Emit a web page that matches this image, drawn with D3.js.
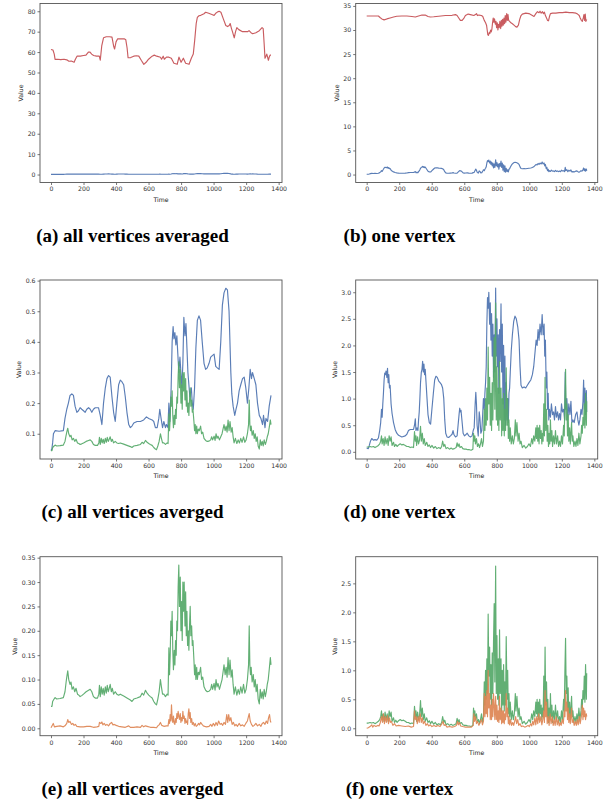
<!DOCTYPE html>
<html><head><meta charset="utf-8">
<script src="https://cdn.jsdelivr.net/npm/d3@7"></script>
<style>
html,body{margin:0;padding:0;background:#fff;}
svg{display:block;}
.tick text{font-family:"DejaVu Sans",sans-serif;font-size:6.2px;fill:#333;}
.axlab{font-family:"DejaVu Sans",sans-serif;font-size:6.2px;fill:#222;}
.cap{font-family:"Liberation Serif",serif;font-weight:bold;font-size:19px;fill:#000;}
</style></head>
<body>
<svg id="fig" width="615" height="808"></svg>
<script>
// ---------------- data: [time, value] pairs ----------------
const timeTicks = [0,200,400,600,800,1000,1200,1400];
const yTicksA = [0,10,20,30,40,50,60,70,80];
const yTicksB = [0,5,10,15,20,25,30,35];
const yTicksC = [0.1,0.2,0.3,0.4,0.5,0.6];
const yTicksD = [0,0.5,1,1.5,2,2.5,3];
const yTicksE = [0,0.05,0.1,0.15,0.2,0.25,0.3,0.35];
const yTicksF = [0,0.5,1,1.5,2,2.5];

const redAvg = [[0,61.3],[12,61],[20,59],[25,56.4],[40,56.5],[60,56.3],[80,56.5],[97,56.2],[110,55.5],[125,55.6],[142,55],[150,56.5],[160,58],[180,58],[200,58.3],[215,58.5],[230,60],[240,60],[250,59],[262,58.3],[280,58],[297,58],[303,56],[312,63],[323,67],[340,67.5],[360,67.5],[375,67.3],[385,63],[391,61.5],[400,65],[410,66.5],[430,66.5],[450,66.5],[460,66],[468,62],[474,57.2],[490,57.3],[509,58],[525,58.2],[540,58],[555,56],[571,54],[585,55],[600,56.5],[622,58],[635,58.5],[650,58],[673,57.5],[680,56.5],[690,58],[697,56.5],[710,57.5],[725,57.5],[740,57],[756,54.5],[776,54],[787,57.5],[800,55],[814,57],[828,54.5],[849,54],[863,57],[875,59],[884,66],[893,74],[900,77],[910,77.8],[921,78],[941,78.8],[951,79.5],[970,79],[993,78.3],[1003,78],[1013,79],[1025,79.7],[1034,80],[1045,79.5],[1061,76],[1075,73],[1086,72.5],[1096,73],[1102,74],[1110,71.5],[1116,70],[1127,67],[1135,70],[1143,72],[1155,71],[1178,70],[1195,70],[1209,70],[1218,70.5],[1230,69.5],[1240,69],[1260,69.5],[1281,70.5],[1298,72],[1305,71.5],[1311,64],[1316,57],[1322,58],[1327,59],[1332,57.5],[1337,56],[1342,57.5],[1347,58.5],[1353,58.5]];

const blueAvg = [[0,0.045],[5,0.05],[10,0.07],[15,0.1],[25,0.11],[50,0.108],[76,0.11],[86,0.15],[97,0.18],[107,0.2],[117,0.225],[128,0.23],[138,0.225],[148,0.19],[159,0.17],[169,0.175],[179,0.185],[189,0.18],[200,0.175],[210,0.17],[220,0.18],[231,0.185],[241,0.18],[251,0.17],[261,0.18],[272,0.185],[292,0.185],[303,0.16],[313,0.13],[323,0.2],[334,0.25],[344,0.28],[354,0.29],[364,0.285],[375,0.22],[385,0.17],[395,0.14],[405,0.2],[416,0.26],[426,0.275],[436,0.27],[447,0.26],[457,0.22],[467,0.17],[478,0.13],[488,0.12],[498,0.125],[509,0.135],[529,0.14],[550,0.14],[570,0.145],[587,0.155],[601,0.15],[622,0.145],[632,0.14],[642,0.12],[653,0.12],[663,0.15],[669,0.18],[677,0.15],[686,0.12],[694,0.14],[704,0.12],[710,0.13],[719,0.12],[725,0.2],[731,0.14],[739,0.25],[745,0.4],[751,0.45],[756,0.41],[762,0.43],[768,0.39],[774,0.42],[780,0.36],[786,0.3],[793,0.35],[799,0.3],[805,0.25],[811,0.33],[817,0.48],[824,0.42],[830,0.46],[836,0.38],[842,0.3],[848,0.26],[854,0.22],[863,0.25],[869,0.2],[875,0.18],[883,0.25],[891,0.38],[900,0.47],[910,0.485],[920,0.47],[930,0.4],[941,0.33],[951,0.31],[961,0.315],[972,0.33],[982,0.35],[992,0.355],[1003,0.36],[1013,0.32],[1023,0.315],[1034,0.31],[1044,0.4],[1054,0.52],[1064,0.56],[1075,0.575],[1085,0.57],[1095,0.5],[1106,0.3],[1112,0.23],[1120,0.19],[1130,0.16],[1138,0.18],[1147,0.2],[1157,0.24],[1167,0.26],[1178,0.28],[1188,0.285],[1198,0.25],[1208,0.2],[1217,0.25],[1225,0.31],[1233,0.28],[1239,0.3],[1250,0.28],[1260,0.26],[1270,0.2],[1281,0.16],[1291,0.15],[1301,0.13],[1307,0.16],[1316,0.12],[1322,0.15],[1332,0.14],[1342,0.19],[1353,0.225]];

const greenAvg = [[0,0.045],[6,0.045],[10,0.055],[19,0.06],[25,0.063],[35,0.06],[56,0.061],[76,0.063],[86,0.075],[93,0.095],[97,0.105],[103,0.118],[109,0.1],[117,0.09],[123,0.095],[130,0.08],[138,0.085],[146,0.075],[154,0.082],[163,0.07],[171,0.068],[179,0.065],[189,0.067],[200,0.07],[216,0.075],[231,0.078],[241,0.08],[251,0.075],[261,0.065],[272,0.062],[286,0.062],[294,0.07],[298,0.088],[303,0.065],[309,0.085],[315,0.07],[321,0.082],[327,0.068],[334,0.085],[340,0.072],[346,0.088],[352,0.075],[358,0.082],[364,0.09],[371,0.075],[377,0.082],[385,0.07],[395,0.075],[405,0.07],[416,0.068],[426,0.07],[447,0.066],[467,0.062],[488,0.058],[498,0.055],[509,0.06],[529,0.062],[550,0.065],[560,0.072],[570,0.068],[581,0.078],[591,0.072],[601,0.068],[611,0.065],[622,0.062],[632,0.055],[642,0.05],[649,0.048],[657,0.06],[665,0.075],[673,0.1],[679,0.085],[686,0.07],[694,0.07],[704,0.065],[714,0.07],[720,0.068],[725,0.165],[729,0.11],[733,0.15],[737,0.22],[741,0.19],[745,0.24],[749,0.16],[753,0.12],[758,0.16],[762,0.13],[766,0.18],[770,0.15],[774,0.22],[778,0.2],[782,0.29],[786,0.335],[790,0.25],[795,0.31],[799,0.2],[803,0.26],[807,0.18],[811,0.3],[815,0.24],[819,0.3],[824,0.21],[828,0.28],[832,0.19],[836,0.24],[840,0.17],[844,0.2],[848,0.16],[852,0.21],[856,0.25],[860,0.19],[865,0.21],[869,0.17],[873,0.18],[879,0.14],[883,0.11],[887,0.13],[891,0.1],[896,0.125],[900,0.1],[906,0.115],[912,0.11],[920,0.125],[926,0.1],[933,0.105],[941,0.085],[951,0.078],[961,0.075],[972,0.076],[982,0.08],[988,0.09],[994,0.08],[1003,0.092],[1009,0.078],[1015,0.1],[1021,0.085],[1027,0.092],[1036,0.08],[1044,0.09],[1052,0.1],[1058,0.115],[1064,0.13],[1071,0.11],[1077,0.125],[1083,0.105],[1089,0.145],[1095,0.11],[1101,0.14],[1108,0.105],[1114,0.12],[1120,0.09],[1126,0.07],[1134,0.085],[1143,0.068],[1151,0.08],[1159,0.07],[1167,0.085],[1175,0.072],[1184,0.09],[1192,0.072],[1200,0.08],[1208,0.1],[1215,0.13],[1219,0.21],[1223,0.13],[1227,0.11],[1231,0.125],[1237,0.095],[1244,0.11],[1250,0.085],[1256,0.1],[1262,0.075],[1268,0.09],[1274,0.06],[1281,0.05],[1287,0.08],[1293,0.062],[1299,0.075],[1305,0.06],[1311,0.08],[1318,0.065],[1324,0.075],[1330,0.09],[1336,0.1],[1342,0.12],[1349,0.145],[1353,0.13]];

const orangeAvg = [[0,0.001],[14,0.01],[21,0.003],[35,0.004],[56,0.005],[76,0.003],[86,0.005],[97,0.01],[103,0.018],[109,0.012],[117,0.014],[126,0.008],[134,0.01],[142,0.006],[150,0.008],[159,0.004],[179,0.003],[200,0.003],[220,0.004],[241,0.004],[261,0.002],[282,0.003],[294,0.004],[298,0.012],[307,0.01],[313,0.013],[319,0.007],[327,0.01],[336,0.006],[344,0.008],[354,0.005],[364,0.01],[373,0.012],[381,0.007],[389,0.008],[401,0.006],[416,0.004],[436,0.003],[457,0.002],[478,0.005],[488,0.002],[509,0.002],[529,0.003],[550,0.002],[560,0.006],[570,0.003],[581,0.005],[591,0.004],[611,0.002],[632,0.002],[649,0.001],[657,0.005],[665,0.007],[673,0.012],[681,0.006],[694,0.004],[710,0.005],[720,0.005],[725,0.018],[729,0.01],[733,0.028],[737,0.015],[741,0.048],[745,0.02],[749,0.012],[753,0.025],[758,0.01],[762,0.008],[766,0.02],[770,0.012],[774,0.03],[778,0.02],[782,0.035],[786,0.025],[790,0.018],[795,0.03],[799,0.012],[803,0.022],[807,0.015],[811,0.035],[815,0.02],[819,0.025],[824,0.01],[828,0.02],[832,0.012],[836,0.015],[840,0.008],[844,0.03],[848,0.04],[852,0.02],[856,0.032],[860,0.012],[865,0.02],[869,0.008],[875,0.012],[881,0.005],[887,0.01],[893,0.004],[900,0.006],[908,0.01],[914,0.007],[920,0.012],[929,0.008],[937,0.005],[945,0.004],[957,0.003],[972,0.004],[982,0.008],[990,0.004],[998,0.01],[1007,0.005],[1015,0.012],[1023,0.006],[1031,0.015],[1040,0.008],[1048,0.01],[1056,0.006],[1064,0.012],[1073,0.008],[1081,0.028],[1087,0.012],[1093,0.028],[1099,0.015],[1106,0.022],[1114,0.008],[1122,0.012],[1130,0.005],[1138,0.008],[1147,0.004],[1157,0.01],[1167,0.005],[1178,0.007],[1188,0.004],[1198,0.01],[1208,0.015],[1215,0.025],[1219,0.03],[1225,0.015],[1233,0.008],[1242,0.004],[1250,0.006],[1260,0.01],[1270,0.005],[1281,0.008],[1291,0.004],[1299,0.01],[1307,0.012],[1316,0.008],[1324,0.015],[1332,0.01],[1338,0.022],[1344,0.028],[1349,0.015],[1353,0.012]];

const redOne = [[0,32.9],[30,32.9],[72,32.9],[82,32.6],[93,32.3],[107,32.1],[124,32.3],[144,32.5],[165,32.7],[185,32.85],[216,32.9],[247,32.9],[278,32.8],[299,32.7],[319,32.9],[340,33.1],[360,33.1],[377,32.8],[391,32.7],[412,32.75],[443,32.85],[484,33],[525,33.05],[546,33.2],[556,33],[566,32.5],[576,32],[587,32],[597,32.4],[607,33],[624,33.3],[638,33.2],[659,33],[669,33.2],[675,33.4],[681,33],[690,33.1],[706,33],[714,32.8],[723,32],[731,31.5],[737,31],[741,30],[745,29],[749,28.9],[754,29.5],[758,29.3],[762,30],[766,29.6],[770,30.2],[774,31.5],[778,32.5],[782,31.6],[786,32.3],[791,31.2],[795,31.8],[799,30.5],[803,31.5],[807,30],[811,31.2],[815,30.5],[819,31.8],[824,30.3],[828,32],[832,30.8],[836,32.2],[840,31],[844,32.5],[848,31.3],[852,33],[856,31.6],[861,33.4],[865,32],[869,33.2],[873,32],[879,31.8],[887,31.5],[896,31.3],[906,31],[916,30.7],[924,30.6],[933,31],[941,32.2],[949,33],[957,33.3],[978,33.5],[998,33.4],[1019,33],[1029,32.8],[1040,33.4],[1050,33.8],[1060,33.6],[1066,33.9],[1073,33.5],[1081,33.8],[1087,33.4],[1093,33.7],[1099,33],[1106,32.5],[1112,32],[1118,31.9],[1124,32.8],[1130,33.4],[1143,33.5],[1163,33.5],[1184,33.6],[1204,33.6],[1225,33.7],[1246,33.6],[1266,33.6],[1287,33.5],[1297,33.3],[1307,33],[1313,32.5],[1320,32],[1326,31.8],[1332,32.5],[1336,33.2],[1340,32],[1344,33.3],[1348,31.8],[1353,32.2]];

const blueOne = [[0,0.07],[10,0.06],[16,0.12],[23,0.2],[31,0.25],[41,0.22],[51,0.23],[62,0.22],[72,0.26],[80,0.4],[86,0.55],[91,0.8],[95,0.65],[99,0.9],[103,1.1],[107,1.35],[111,1.48],[115,1.45],[119,1.52],[124,1.4],[128,1.57],[132,1.3],[136,1.45],[140,1.2],[144,1.25],[150,0.9],[156,0.72],[165,0.55],[175,0.42],[185,0.35],[196,0.31],[216,0.28],[237,0.3],[247,0.33],[257,0.4],[268,0.42],[278,0.42],[288,0.42],[294,0.5],[299,0.62],[303,0.4],[309,0.45],[315,0.4],[319,0.6],[323,0.75],[327,1],[331,1.3],[336,1.5],[340,1.55],[344,1.7],[348,1.5],[352,1.65],[356,1.45],[360,1.55],[364,1.35],[371,1],[377,0.7],[385,0.55],[393,0.52],[401,0.8],[410,1.1],[418,1.35],[426,1.42],[434,1.4],[443,1.33],[451,1.3],[459,1.27],[467,1.2],[474,1],[480,0.6],[486,0.35],[494,0.28],[504,0.27],[515,0.3],[525,0.33],[531,0.4],[537,0.32],[546,0.28],[556,0.3],[562,0.5],[568,0.7],[572,0.82],[576,0.75],[580,0.78],[587,0.55],[593,0.35],[601,0.3],[609,0.32],[618,0.35],[628,0.3],[638,0.28],[648,0.3],[655,0.4],[661,0.45],[667,0.9],[671,1.12],[675,0.9],[679,0.5],[686,0.3],[692,0.75],[696,0.65],[702,0.35],[708,0.4],[714,0.75],[718,1],[723,0.8],[727,1.1],[731,1.3],[735,1.6],[739,2.4],[743,2.9],[747,2.7],[751,3],[756,2.4],[760,2.8],[764,2.1],[768,2.6],[772,1.8],[776,2.4],[780,1.4],[784,2.2],[788,1.5],[793,3.08],[797,1.8],[801,2.5],[805,1.6],[809,2.2],[813,1.1],[817,2.3],[821,1.7],[826,2.78],[830,1.5],[834,2.4],[838,0.9],[842,2],[846,0.6],[850,1.8],[854,0.5],[858,1.3],[863,0.6],[867,1],[871,0.55],[875,1.1],[879,1.2],[883,1.5],[889,1.9],[896,2.2],[904,2.45],[912,2.55],[920,2.5],[929,2.35],[937,2.1],[943,1.6],[949,1.25],[957,1.2],[968,1.22],[978,1.2],[988,1.25],[998,1.3],[1009,1.35],[1019,1.45],[1027,1.6],[1036,1.9],[1042,2.1],[1048,2],[1054,2.3],[1060,2.1],[1066,2.4],[1073,2.2],[1079,2.58],[1085,2.2],[1091,2.4],[1095,1.8],[1099,2.1],[1104,1.2],[1108,1.5],[1112,0.8],[1116,1.1],[1120,0.6],[1124,0.8],[1130,0.65],[1136,0.9],[1143,0.7],[1149,0.75],[1155,0.6],[1161,0.85],[1167,0.65],[1174,0.75],[1180,0.6],[1186,0.72],[1192,0.6],[1198,0.9],[1204,0.75],[1211,0.8],[1217,0.6],[1221,1.5],[1225,0.8],[1231,1],[1237,0.6],[1243,0.9],[1250,0.7],[1256,0.95],[1262,0.55],[1268,0.6],[1276,0.55],[1285,0.7],[1293,0.75],[1299,0.6],[1305,0.5],[1311,0.6],[1318,0.8],[1324,0.7],[1330,0.95],[1334,1.35],[1338,0.8],[1342,1.2],[1346,0.7],[1351,1.15],[1353,0.75]];

const greenOne = [[0,0.09],[10,0.09],[21,0.1],[31,0.09],[41,0.1],[51,0.08],[62,0.1],[72,0.12],[80,0.15],[86,0.2],[91,0.3],[95,0.15],[101,0.25],[107,0.12],[113,0.28],[119,0.15],[126,0.25],[132,0.12],[138,0.3],[144,0.2],[150,0.28],[156,0.12],[165,0.18],[171,0.1],[179,0.14],[187,0.1],[196,0.13],[206,0.15],[216,0.13],[226,0.14],[237,0.12],[247,0.1],[257,0.1],[268,0.08],[278,0.09],[288,0.08],[294,0.38],[299,0.2],[303,0.3],[307,0.12],[313,0.28],[319,0.15],[325,0.22],[331,0.48],[336,0.2],[342,0.35],[348,0.15],[354,0.25],[360,0.12],[369,0.18],[377,0.1],[385,0.13],[393,0.08],[401,0.12],[412,0.07],[422,0.1],[432,0.06],[443,0.08],[453,0.06],[461,0.1],[467,0.2],[474,0.1],[480,0.14],[488,0.06],[498,0.08],[509,0.05],[519,0.07],[529,0.05],[539,0.06],[550,0.08],[556,0.17],[562,0.1],[568,0.15],[574,0.08],[583,0.1],[591,0.06],[601,0.05],[611,0.05],[622,0.04],[632,0.04],[642,0.03],[653,0.05],[657,0.35],[661,0.2],[665,0.3],[669,0.15],[675,0.25],[681,0.1],[688,0.15],[694,0.08],[700,0.15],[706,0.25],[712,0.1],[718,0.2],[723,0.8],[727,0.4],[731,1],[735,0.5],[739,1.2],[743,0.6],[747,1.97],[751,0.9],[756,1.4],[760,0.5],[764,1.1],[768,0.4],[772,1.3],[776,0.6],[780,1.5],[784,2.15],[788,0.8],[793,2.8],[797,0.6],[801,1.6],[805,0.5],[809,1.2],[813,0.4],[817,1.7],[821,0.6],[826,1.2],[830,0.3],[834,1],[838,0.4],[842,1.1],[846,0.3],[850,0.8],[854,0.4],[858,1.58],[863,0.5],[867,1],[871,0.25],[875,0.6],[879,0.2],[883,0.45],[889,0.15],[896,0.3],[902,0.15],[908,0.25],[914,0.6],[918,0.3],[924,0.55],[931,0.2],[937,0.35],[943,0.15],[949,0.2],[957,0.08],[968,0.12],[978,0.07],[988,0.1],[998,0.15],[1007,0.1],[1015,0.25],[1021,0.15],[1027,0.3],[1034,0.2],[1040,0.45],[1044,0.25],[1048,0.5],[1052,0.2],[1056,0.45],[1060,0.15],[1064,0.5],[1069,0.25],[1073,0.4],[1077,0.15],[1081,0.35],[1085,0.2],[1089,0.9],[1093,0.3],[1097,1.4],[1101,0.4],[1106,0.8],[1110,0.2],[1114,0.5],[1118,0.1],[1122,0.35],[1126,0.15],[1130,0.6],[1134,0.2],[1139,0.4],[1143,0.1],[1149,0.3],[1155,0.15],[1161,0.4],[1167,0.15],[1174,0.3],[1180,0.1],[1186,0.2],[1192,0.1],[1198,0.3],[1204,0.15],[1211,0.5],[1215,0.3],[1219,1],[1223,1.55],[1227,0.6],[1231,0.9],[1235,0.3],[1239,0.7],[1243,0.2],[1248,0.45],[1252,0.15],[1256,0.35],[1260,0.55],[1264,0.2],[1268,0.3],[1274,0.1],[1281,0.2],[1287,0.1],[1293,0.25],[1299,0.12],[1305,0.35],[1311,0.15],[1318,0.3],[1322,0.5],[1326,0.35],[1330,0.65],[1334,0.5],[1338,0.9],[1342,0.45],[1346,1.1],[1351,0.5],[1353,0.95]];

const orangeOne = [[0,0],[10,0.01],[21,0.03],[31,0.06],[37,0.02],[45,0.05],[56,0.03],[68,0.05],[76,0.04],[84,0.1],[91,0.2],[97,0.1],[103,0.25],[109,0.08],[115,0.2],[121,0.1],[128,0.22],[134,0.08],[140,0.18],[146,0.1],[152,0.12],[161,0.05],[171,0.08],[181,0.04],[196,0.05],[216,0.04],[237,0.03],[257,0.04],[274,0.02],[288,0.03],[294,0.3],[299,0.15],[305,0.2],[311,0.08],[317,0.2],[323,0.1],[329,0.25],[336,0.1],[342,0.18],[348,0.08],[356,0.12],[364,0.05],[373,0.08],[381,0.04],[391,0.06],[401,0.03],[414,0.05],[426,0.03],[438,0.05],[451,0.03],[463,0.08],[469,0.12],[476,0.05],[484,0.06],[494,0.02],[509,0.03],[525,0.02],[541,0.03],[552,0.05],[558,0.12],[564,0.06],[570,0.1],[578,0.04],[591,0.03],[607,0.02],[628,0.02],[644,0.02],[655,0.05],[659,0.25],[663,0.12],[669,0.2],[675,0.08],[681,0.12],[690,0.05],[698,0.1],[706,0.15],[712,0.06],[718,0.12],[723,0.6],[727,0.2],[731,0.55],[735,0.25],[739,0.65],[743,0.2],[747,1],[751,0.35],[756,0.6],[760,0.15],[764,0.4],[768,0.15],[772,0.5],[776,0.2],[780,0.6],[784,0.4],[788,0.15],[793,0.55],[797,0.15],[801,0.4],[805,0.12],[809,0.3],[813,0.1],[817,0.55],[821,0.15],[826,0.35],[830,0.08],[834,0.3],[838,0.1],[842,0.3],[846,0.08],[850,0.25],[854,0.15],[858,0.6],[863,0.2],[867,0.35],[871,0.08],[875,0.2],[879,0.06],[885,0.15],[891,0.05],[898,0.1],[904,0.05],[910,0.12],[916,0.2],[922,0.08],[929,0.15],[935,0.05],[943,0.08],[951,0.03],[961,0.04],[972,0.02],[982,0.03],[992,0.05],[1000,0.03],[1009,0.08],[1015,0.04],[1021,0.12],[1027,0.06],[1034,0.18],[1040,0.06],[1046,0.2],[1052,0.08],[1058,0.25],[1064,0.1],[1071,0.2],[1077,0.06],[1083,0.15],[1089,0.3],[1093,0.1],[1097,0.65],[1101,0.2],[1106,0.45],[1110,0.08],[1116,0.2],[1122,0.05],[1128,0.25],[1134,0.08],[1141,0.2],[1147,0.05],[1153,0.15],[1159,0.05],[1165,0.2],[1172,0.06],[1178,0.15],[1184,0.04],[1190,0.1],[1196,0.05],[1202,0.15],[1209,0.08],[1215,0.3],[1219,0.2],[1223,0.65],[1227,0.3],[1231,0.45],[1235,0.15],[1239,0.35],[1243,0.1],[1248,0.25],[1252,0.08],[1256,0.2],[1260,0.35],[1264,0.1],[1270,0.15],[1276,0.05],[1283,0.12],[1289,0.05],[1295,0.15],[1301,0.06],[1307,0.2],[1313,0.08],[1320,0.2],[1326,0.4],[1330,0.15],[1334,0.35],[1338,0.2],[1342,0.3],[1346,0.15],[1351,0.25],[1353,0.2]];

// ---------------- styling / layout ----------------
const C = {red:"#c44e52", blue:"#4c72b0", green:"#55a868", orange:"#dd8452"};
const colX = [40, 355.7], colW = 242;
const rowY = [3.5, 280, 556.7], rowH = 179;

const panels = [
  {col:0,row:0,yDomain:[-3.9,83.8],ticks:yTicksA,fmt:d3.format("d"),series:[[blueAvg,C.blue],[redAvg,C.red]],cap:"(a) all vertices averaged"},
  {col:1,row:0,yDomain:[-1.65,35.5],ticks:yTicksB,fmt:d3.format("d"),series:[[redOne,C.red],[blueOne,C.blue]],cap:"(b) one vertex"},
  {col:0,row:1,yDomain:[0.0175,0.602],ticks:yTicksC,fmt:d3.format(".1f"),series:[[blueAvg,C.blue],[greenAvg,C.green]],cap:"(c) all vertices averged"},
  {col:1,row:1,yDomain:[-0.135,3.23],ticks:yTicksD,fmt:d3.format(".1f"),series:[[blueOne,C.blue],[greenOne,C.green]],cap:"(d) one vertex"},
  {col:0,row:2,yDomain:[-0.0152,0.352],ticks:yTicksE,fmt:d3.format(".2f"),series:[[greenAvg,C.green],[orangeAvg,C.orange]],cap:"(e) all vertices averged"},
  {col:1,row:2,yDomain:[-0.128,2.96],ticks:yTicksF,fmt:d3.format(".1f"),series:[[greenOne,C.green],[orangeOne,C.orange]],cap:"(f) one vertex"}
];
const capX = [132.5, 399.5];

const svg = d3.select("#fig");
svg.append("rect").attr("width",615).attr("height",808).attr("fill","#fff");

panels.forEach(p => {
  const x0 = colX[p.col], y0 = rowY[p.row];
  const all = p.series.flatMap(s => s[0]);
  const ext = d3.extent(all, d => d[0]);
  const pad = (ext[1]-ext[0])*0.05;
  const xs = d3.scaleLinear().domain([ext[0]-pad, ext[1]+pad]).range([x0, x0+colW]);
  const ys = d3.scaleLinear().domain(p.yDomain).range([y0+rowH, y0]);
  const g = svg.append("g");

  const clipId = "clip"+p.col+p.row;
  g.append("clipPath").attr("id",clipId).append("rect")
    .attr("x",x0).attr("y",y0).attr("width",colW).attr("height",rowH);

  const line = d3.line().x(d=>xs(d[0])).y(d=>ys(d[1]));
  p.series.forEach(([data,col]) => {
    g.append("path").attr("d",line(data)).attr("fill","none")
      .attr("stroke",col).attr("stroke-width",1.15).attr("stroke-opacity",0.92)
      .attr("stroke-linejoin","round").attr("clip-path",`url(#${clipId})`);
  });

  const xa = g.append("g").attr("transform",`translate(0,${y0+rowH})`)
    .call(d3.axisBottom(xs).tickValues(timeTicks).tickFormat(d3.format("d")).tickSize(2.5).tickPadding(2));
  const ya = g.append("g").attr("transform",`translate(${x0},0)`)
    .call(d3.axisLeft(ys).tickValues(p.ticks).tickFormat(p.fmt).tickSize(2.5).tickPadding(2));
  [xa,ya].forEach(a => { a.select(".domain").remove(); a.selectAll(".tick line").attr("stroke","#555").attr("stroke-width",0.8); });

  g.append("rect").attr("x",x0).attr("y",y0).attr("width",colW).attr("height",rowH)
    .attr("fill","none").attr("stroke","#555").attr("stroke-width",0.9);

  let maxW = 0;
  ya.selectAll(".tick text").each(function(){ maxW = Math.max(maxW, this.getComputedTextLength()); });
  g.append("text").attr("class","axlab").attr("text-anchor","middle")
    .attr("transform",`translate(${x0-2.5-2-maxW-4.5},${y0+rowH/2}) rotate(-90)`).text("Value");
  g.append("text").attr("class","axlab").attr("text-anchor","middle")
    .attr("x",x0+colW/2).attr("y",y0+rowH+19).text("Time");

  svg.append("text").attr("class","cap").attr("text-anchor","middle")
    .attr("x",capX[p.col]).attr("y",y0+rowH+59).text(p.cap);
});
</script>
</body></html>
